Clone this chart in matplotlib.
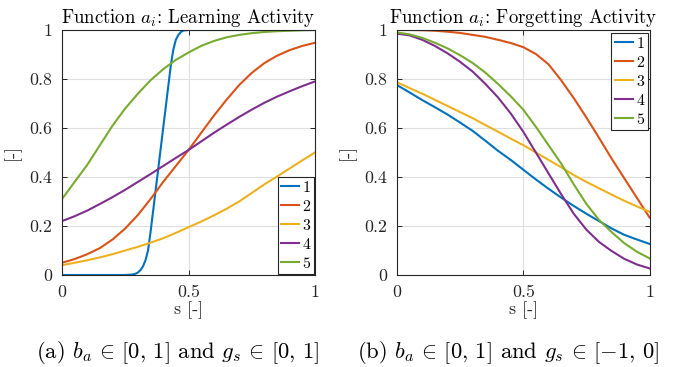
import matplotlib
matplotlib.use("Agg")
import matplotlib.pyplot as plt

# ── Data ──────────────────────────────────────────────────────────────────────
S = [0.00, 0.05, 0.10, 0.15, 0.20, 0.25, 0.30, 0.35, 0.40, 0.45, 0.50,
     0.55, 0.60, 0.65, 0.70, 0.75, 0.80, 0.85, 0.90, 0.95, 1.00]

# learning activity (left)
learn_s1 = [0.00, 0.25, 0.28, 0.29, 0.30, 0.31, 0.32, 0.33, 0.34, 0.35, 0.36,
            0.37, 0.38, 0.39, 0.40, 0.41, 0.42, 0.43, 0.44, 0.45, 0.46, 0.47,
            0.48, 0.50, 1.00]
learn_1 = [0.000, 0.000, 0.002, 0.005, 0.010, 0.020, 0.035, 0.060, 0.100,
           0.175, 0.260, 0.345, 0.430, 0.515, 0.600, 0.685, 0.770, 0.855,
           0.920, 0.960, 0.980, 0.992, 0.998, 1.000, 1.000]
learn_2 = [0.050, 0.065, 0.085, 0.110, 0.145, 0.190, 0.245, 0.310, 0.380,
           0.445, 0.510, 0.580, 0.650, 0.715, 0.775, 0.825, 0.865, 0.895,
           0.918, 0.935, 0.948]
learn_3 = [0.040, 0.050, 0.060, 0.072, 0.085, 0.100, 0.115, 0.132, 0.150,
           0.172, 0.195, 0.218, 0.243, 0.270, 0.300, 0.335, 0.370, 0.402,
           0.435, 0.468, 0.500]
learn_4 = [0.220, 0.240, 0.263, 0.290, 0.318, 0.348, 0.380, 0.412, 0.445,
           0.478, 0.510, 0.545, 0.580, 0.613, 0.645, 0.675, 0.703, 0.728,
           0.750, 0.771, 0.790]
learn_5 = [0.310, 0.380, 0.450, 0.530, 0.610, 0.680, 0.740, 0.795, 0.840,
           0.878, 0.908, 0.935, 0.955, 0.970, 0.980, 0.987, 0.992, 0.995,
           0.997, 0.999, 1.000]

# forgetting activity (right)
forget_1 = [0.775, 0.745, 0.714, 0.685, 0.655, 0.622, 0.588, 0.548, 0.507,
            0.470, 0.430, 0.390, 0.352, 0.316, 0.282, 0.250, 0.220, 0.190,
            0.164, 0.145, 0.127]
forget_2 = [1.000, 1.000, 0.999, 0.997, 0.993, 0.988, 0.980, 0.972, 0.960,
            0.947, 0.930, 0.902, 0.860, 0.795, 0.722, 0.643, 0.560, 0.475,
            0.395, 0.315, 0.235]
forget_3 = [0.786, 0.763, 0.740, 0.715, 0.690, 0.665, 0.640, 0.612, 0.585,
            0.557, 0.530, 0.500, 0.470, 0.440, 0.408, 0.380, 0.354, 0.328,
            0.303, 0.280, 0.258]
forget_4 = [0.985, 0.978, 0.960, 0.935, 0.905, 0.870, 0.830, 0.780, 0.725,
            0.660, 0.585, 0.500, 0.415, 0.330, 0.250, 0.185, 0.135, 0.098,
            0.066, 0.043, 0.027]
forget_5 = [0.990, 0.982, 0.968, 0.948, 0.925, 0.897, 0.865, 0.826, 0.780,
            0.730, 0.675, 0.605, 0.530, 0.455, 0.370, 0.290, 0.225, 0.175,
            0.130, 0.095, 0.068]

LABELS = ["1", "2", "3", "4", "5"]
X_TICKS = [0, 0.5, 1]
X_TICKLABELS = ["0", "0.5", "1"]
Y_TICKS = [0, 0.2, 0.4, 0.6, 0.8, 1]
Y_TICKLABELS = ["0", "0.2", "0.4", "0.6", "0.8", "1"]

# ── Style ─────────────────────────────────────────────────────────────────────
COLORS = ["#0072BD", "#D95319", "#EDB120", "#7E2F8E", "#77AC30"]
CLR_AX = "#262626"
CLR_GRID = "#DFDFDF"

plt.rcParams["font.family"] = ["cmr10", "DejaVu Serif"]
plt.rcParams["mathtext.fontset"] = "cm"
plt.rcParams["axes.unicode_minus"] = False
plt.rcParams["axes.formatter.use_mathtext"] = True

fig = plt.figure(figsize=(6.78, 3.67), dpi=100)
ax1 = fig.add_axes([62 / 678, 1 - 275 / 367, 253 / 678, 245 / 367])
ax2 = fig.add_axes([397 / 678, 1 - 275 / 367, 252.5 / 678, 245 / 367])


def style_axes(ax, title, ylab_x):
    ax.set_xlim(0, 1)
    ax.set_ylim(0, 1)
    ax.set_xticks(X_TICKS)
    ax.set_xticklabels(X_TICKLABELS)
    ax.set_yticks(Y_TICKS)
    ax.set_yticklabels(Y_TICKLABELS)
    ax.grid(color=CLR_GRID, linewidth=0.8, zorder=0)
    ax.set_axisbelow(True)
    for sp in ax.spines.values():
        sp.set_color(CLR_AX)
        sp.set_linewidth(0.8)
    ax.tick_params(direction="in", length=3.5, width=0.7, top=True,
                   right=True, colors=CLR_AX, labelsize=12.8, pad=7)
    ax.set_title(title, fontsize=13.5, color="black", pad=5)
    ax.set_xlabel("s [-]", fontsize=13, color=CLR_AX, labelpad=1)
    ax.set_ylabel("[-]", fontsize=13, color=CLR_AX)
    ax.yaxis.set_label_coords(ylab_x, 0.5)


# ── Panel (a) ─────────────────────────────────────────────────────────────────
ax1.plot(learn_s1, learn_1, color=COLORS[0], lw=1.5, label=LABELS[0])
for ys, c, lab in zip([learn_2, learn_3, learn_4, learn_5], COLORS[1:],
                      LABELS[1:]):
    ax1.plot(S, ys, color=c, lw=1.5, label=lab)
style_axes(ax1, r"Function $a_i$: Learning Activity", -0.162)

# ── Panel (b) ─────────────────────────────────────────────────────────────────
for ys, c, lab in zip([forget_1, forget_2, forget_3, forget_4, forget_5],
                      COLORS, LABELS):
    ax2.plot(S, ys, color=c, lw=1.5, label=lab)
style_axes(ax2, r"Function $a_i$: Forgetting Activity", -0.162)

legend_kw = dict(fontsize=11.5, fancybox=False, framealpha=1,
                 edgecolor=CLR_AX, handlelength=1.15, handletextpad=0.2,
                 labelspacing=0.3, borderpad=0.22, borderaxespad=0.05)
leg1 = ax1.legend(loc="lower right", **legend_kw)
leg2 = ax2.legend(loc="upper right", bbox_to_anchor=(0.996, 0.99), **legend_kw)
for leg in (leg1, leg2):
    leg.get_frame().set_linewidth(0.8)

# ── Captions ──────────────────────────────────────────────────────────────────
fig.text(178 / 678, 1 - 353 / 367,
         r"(a) $b_a \,\in\, [0,\,1]$ and $g_s \,\in\, [0,\,1]$",
         ha="center", va="center", fontsize=16.3)
fig.text(508 / 678, 1 - 353 / 367,
         r"(b) $b_a \,\in\, [0,\,1]$ and $g_s \,\in\, [-1,\,0]$",
         ha="center", va="center", fontsize=16.3)

fig.savefig("out.png", dpi=100)
